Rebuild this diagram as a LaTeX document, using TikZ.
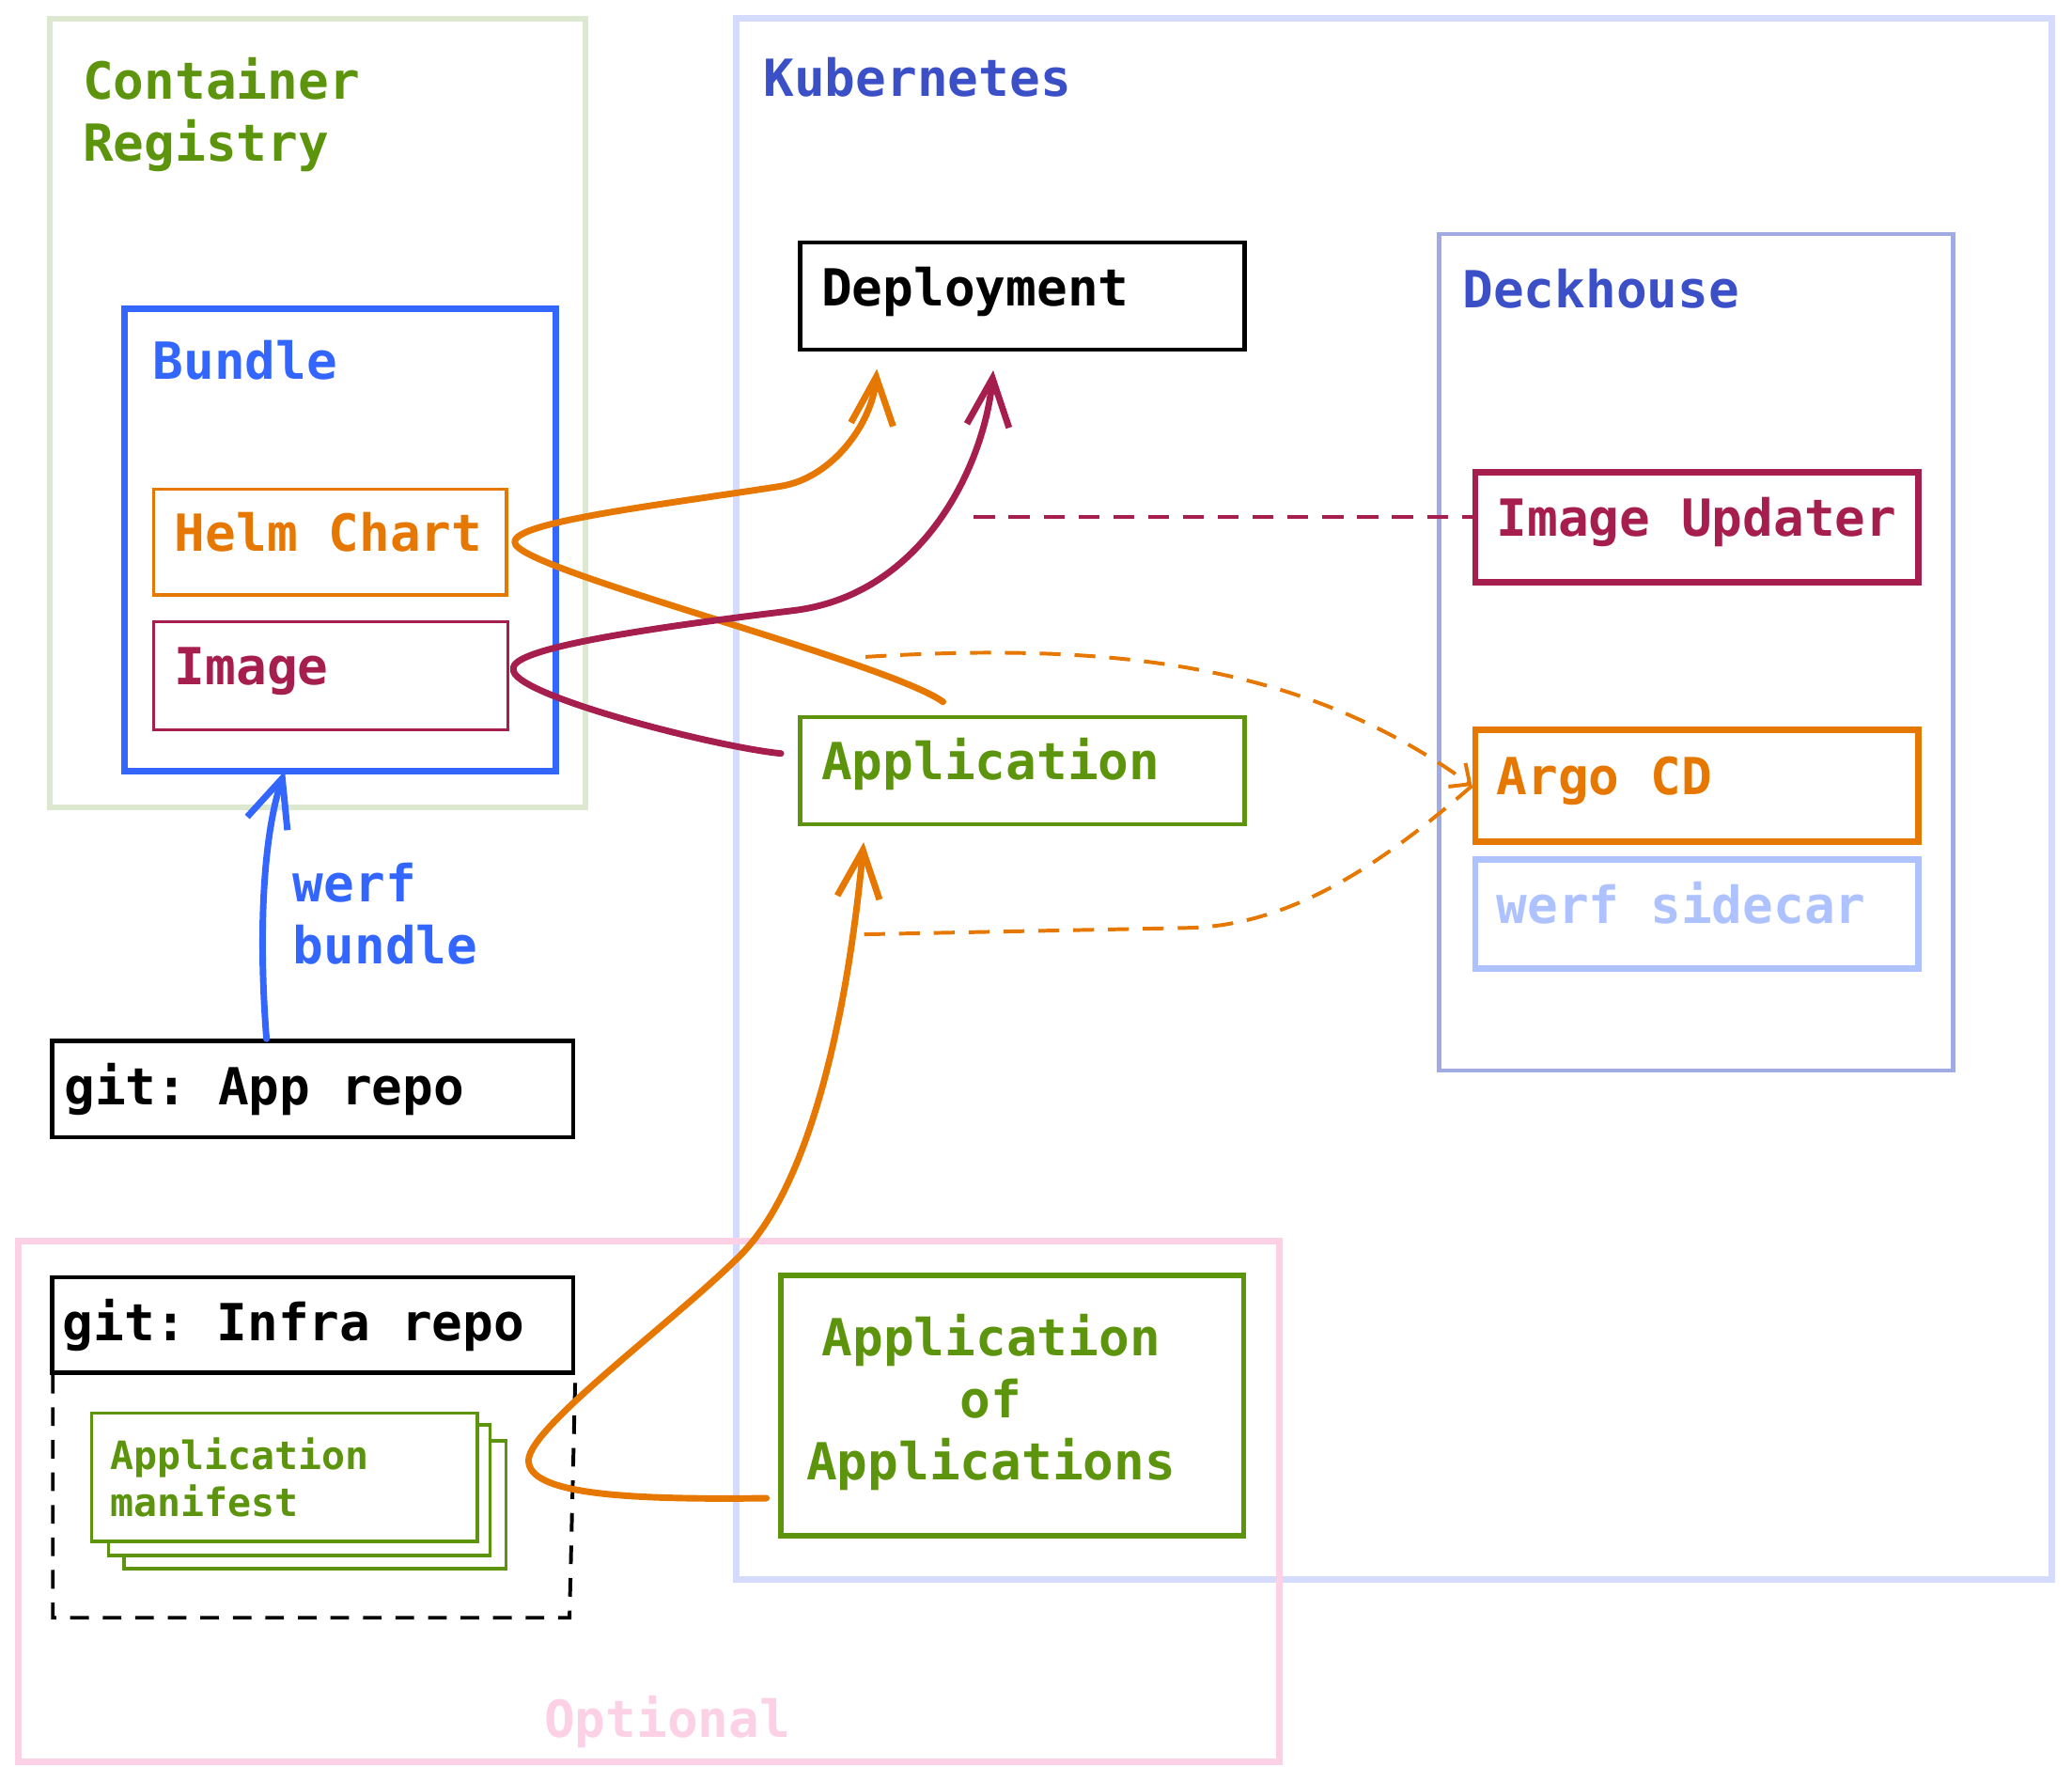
\documentclass[tikz,border=0pt]{standalone}
\usepackage{fontspec}
\setmonofont{DejaVu Sans Mono}
\usetikzlibrary{arrows.meta}

\definecolor{regline}{HTML}{DCE8D0}
\definecolor{kubeline}{HTML}{D5DBFD}
\definecolor{deckline}{HTML}{A0ABE4}
\definecolor{indigo}{HTML}{3B4FC7}
\definecolor{bundleblue}{HTML}{3366FF}
\definecolor{helmorange}{HTML}{E67700}
\definecolor{imgred}{HTML}{A61E4D}
\definecolor{appgreen}{HTML}{5C940D}
\definecolor{sidecarblue}{HTML}{ADC2FF}
\definecolor{optpink}{HTML}{FCD1E6}

\newcommand{\diagfont}[2]{\ttfamily\bfseries\fontsize{#1}{#2}\selectfont}

\begin{document}
\begin{tikzpicture}[x=0.01cm, y=-0.01cm,
    every node/.style={font=\diagfont{11}{13.4},
      execute at begin node={\spaceskip=0.602em\xspaceskip=0.602em\relax}},
    item/.style={draw, anchor=north west, inner ysep=0pt, inner xsep=0.16cm, align=left},
    oneline/.style={text height=0.29cm, text depth=0.15cm},
    title/.style={anchor=north west, inner sep=0pt, align=left},
    link/.style={line width=1.4pt, line cap=round},
    tip/.style={-{Straight Barb[length=0.36cm,width=0.32cm]}},
    dashlink/.style={line width=0.8pt, dash pattern=on 4.5pt off 3pt}]
  \useasboundingbox (0,0) rectangle (1568,1348);

  % frames
  \draw[regline, line width=1.2pt] (38,14) rectangle (443,611);
  \draw[kubeline, line width=1.4pt] (557,14) rectangle (1553,1195);
  \draw[deckline, line width=0.9pt] (1089,177) rectangle (1478,810);
  \draw[optpink, line width=1.4pt] (14,939) rectangle (968,1333);

  \node[title, text=appgreen] at (62,43) {Container\\Registry};
  \node[title, text=indigo] at (577,43) {Kubernetes};
  \node[title, text=indigo] at (1106,203) {Deckhouse};
  \node[anchor=north, inner sep=0pt, text=optpink] at (505,1282) {Optional};

  % registry
  \node[draw=bundleblue, line width=1.4pt, anchor=north west, inner sep=0pt,
        minimum width=3.26cm, minimum height=3.50cm] (bundle) at (92,231) {};
  \node[title, text=bundleblue] at (115,257) {Bundle};
  \node[item, oneline, draw=helmorange, text=helmorange, line width=0.7pt, text width=2.35cm, minimum height=0.80cm] (helm) at (115,369) {Helm Chart};
  \node[item, oneline, draw=imgred, text=imgred, line width=0.7pt, text width=2.36cm, minimum height=0.82cm] (img) at (115,469) {Image};

  % kubernetes
  \node[item, oneline, line width=0.9pt, text width=3.04cm, minimum height=0.81cm] (deploy) at (604,182) {Deployment};
  \node[item, oneline, draw=appgreen, text=appgreen, line width=0.9pt, text width=3.04cm, minimum height=0.81cm] (app) at (604,541) {Application};
  \node[draw=appgreen, line width=1.1pt, anchor=north west, inner sep=0pt,
        minimum width=3.50cm, minimum height=1.97cm] (aoa) at (589,963) {};
  \node[align=center, inner sep=0pt, text=appgreen] at (750,1061) {Application\\of\\Applications};

  % deckhouse
  \node[item, oneline, draw=imgred, text=imgred, line width=1.4pt, text width=3.03cm, minimum height=0.83cm] (updater) at (1114,355) {Image Updater};
  \node[item, oneline, draw=helmorange, text=helmorange, line width=1.4pt, text width=3.03cm, minimum height=0.84cm] (argo) at (1114,550) {Argo CD};
  \node[item, oneline, draw=sidecarblue, text=sidecarblue, line width=1.4pt, text width=3.03cm, minimum height=0.82cm] (sidecar) at (1114,648) {werf sidecar};

  % git
  \node[item, line width=0.9pt, inner xsep=0.09cm, text width=3.76cm, minimum height=0.73cm] (apprepo) at (38,786) {git: App repo};
  \node[title, text=bundleblue] at (221,652) {werf\\bundle};
  \node[item, line width=0.9pt, inner xsep=0.08cm, text width=3.78cm, minimum height=0.72cm] (infrarepo) at (38,965) {git: Infra repo};
  \draw[line width=0.8pt, dash pattern=on 4pt off 3pt] (infrarepo.south west) ++(2,0) -- (40,1224) -- (431,1224) -- (infrarepo.south east);

  \draw[appgreen, line width=0.7pt, fill=white] (94,1090) rectangle +(289,97);
  \draw[appgreen, line width=0.7pt, fill=white] (82,1078) rectangle +(289,99);
  \node[item, draw=appgreen, text=appgreen, fill=white, line width=0.7pt, inner xsep=0.14cm, text width=2.64cm, minimum height=0.97cm,
        font=\diagfont{8.4}{10.2}] (manifest) at (68,1068) {Application\\manifest};

  % connectors
  \draw[link, bundleblue, tip] ([xshift=-0.35cm]apprepo.north) .. controls (195,700) and (200,630) .. ([xshift=-0.42cm,yshift=0.03cm]bundle.south);

  \draw[link, helmorange, tip] ([xshift=-0.6cm,yshift=0.1cm]app.north) .. controls (670,500) and (388,430) .. ([xshift=0.05cm]helm.east)
    .. controls (388,395) and (500,382) .. (590,368) .. controls (630,362) and (660,320) .. ([xshift=-1.1cm,yshift=-0.13cm]deploy.south);

  \draw[link, imgred, tip] ([xshift=-0.13cm,yshift=0.13cm]app.west) .. controls (540,565) and (385,525) .. ([xshift=0.03cm,yshift=0.05cm]img.east)
    .. controls (385,490) and (500,474) .. (600,462) .. controls (700,450) and (745,350) .. ([xshift=-0.22cm,yshift=-0.14cm]deploy.south);

  \draw[link, helmorange, tip] ([xshift=-0.09cm,yshift=-0.70cm]aoa.west) .. controls (470,1135) and (400,1130) .. (400,1105)
    .. controls (400,1080) and (510,1000) .. (560,950) .. controls (610,900) and (640,780) .. ([xshift=-1.2cm,yshift=-0.12cm]app.south);

  \coordinate (updA) at (737,391);
  \draw[dashlink, imgred] (updA) -- (updA -| updater.west);

  \coordinate (argoA) at (655,497);
  \coordinate (argoB) at (650,707);
  \draw[dashlink, helmorange, -{Straight Barb[length=0.12cm,width=0.22cm]}] (argoA) .. controls (850,485) and (990,505) .. (argo.west);
  \draw[dashlink, helmorange] (argo.west) .. controls (1050,650) and (980,700) .. (900,702) -- (argoB);
\end{tikzpicture}
\end{document}
